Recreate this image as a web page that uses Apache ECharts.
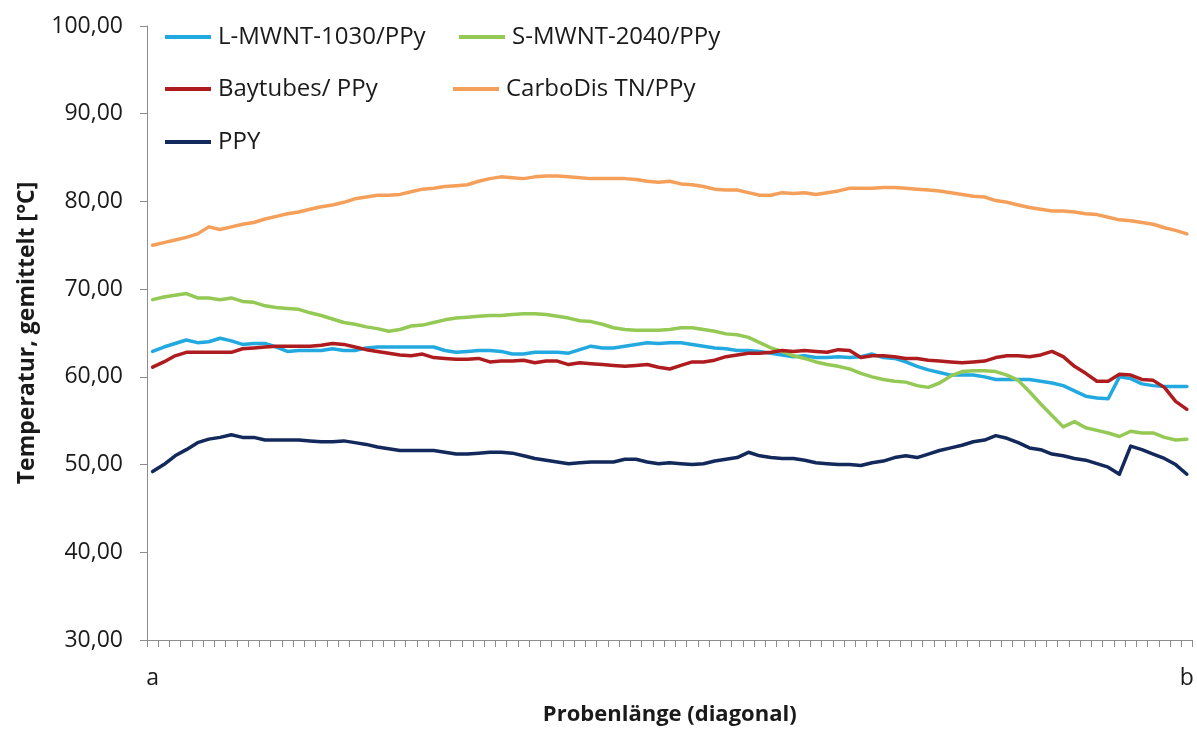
<!DOCTYPE html>
<html>
<head>
<meta charset="utf-8">
<script src="https://cdn.jsdelivr.net/npm/echarts@6/dist/echarts.min.js"></script>
<style>
  html, body { margin: 0; padding: 0; background: #fff; }
  #chart { width: 1197px; height: 731px; }
</style>
</head>
<body>
<div id="chart"></div>
<script>
// Averaged temperature along the sample diagonal, from point a to point b
const sampleCount = 93;
const endLabels = ['a', 'b'];
const yTicks = [30, 40, 50, 60, 70, 80, 90, 100];

const seriesNames = ['L-MWNT-1030/PPy', 'S-MWNT-2040/PPy', 'Baytubes/ PPy', 'CarboDis TN/PPy', 'PPY'];

const lmwnt1030 = [
  62.9, 63.4, 63.8, 64.2, 63.9, 64.0, 64.4, 64.1, 63.7, 63.8,
  63.8, 63.4, 62.9, 63.0, 63.0, 63.0, 63.2, 63.0, 63.0, 63.3,
  63.4, 63.4, 63.4, 63.4, 63.4, 63.4, 63.0, 62.8, 62.9, 63.0,
  63.0, 62.9, 62.6, 62.6, 62.8, 62.8, 62.8, 62.7, 63.1, 63.5,
  63.3, 63.3, 63.5, 63.7, 63.9, 63.8, 63.9, 63.9, 63.7, 63.5,
  63.3, 63.2, 63.0, 63.0, 62.9, 62.7, 62.5, 62.3, 62.4, 62.2,
  62.2, 62.3, 62.2, 62.3, 62.6, 62.2, 62.1, 61.7, 61.2, 60.8,
  60.5, 60.2, 60.2, 60.2, 60.0, 59.7, 59.7, 59.7, 59.7, 59.5,
  59.3, 59.0, 58.4, 57.8, 57.6, 57.5, 60.0, 59.8, 59.2, 59.0,
  58.9, 58.9, 58.9
];

const smwnt2040 = [
  68.8, 69.1, 69.3, 69.5, 69.0, 69.0, 68.8, 69.0, 68.6, 68.5,
  68.1, 67.9, 67.8, 67.7, 67.3, 67.0, 66.6, 66.2, 66.0, 65.7,
  65.5, 65.2, 65.4, 65.8, 65.9, 66.2, 66.5, 66.7, 66.8, 66.9,
  67.0, 67.0, 67.1, 67.2, 67.2, 67.1, 66.9, 66.7, 66.4, 66.3,
  66.0, 65.6, 65.4, 65.3, 65.3, 65.3, 65.4, 65.6, 65.6, 65.4,
  65.2, 64.9, 64.8, 64.5, 63.9, 63.3, 62.9, 62.4, 62.1, 61.7,
  61.4, 61.2, 60.9, 60.4, 60.0, 59.7, 59.5, 59.4, 59.0, 58.8,
  59.3, 60.1, 60.6, 60.7, 60.7, 60.6, 60.2, 59.6, 58.3, 56.9,
  55.6, 54.3, 54.9, 54.2, 53.9, 53.6, 53.2, 53.8, 53.6, 53.6,
  53.1, 52.8, 52.9
];

const baytubes = [
  61.1, 61.7, 62.4, 62.8, 62.8, 62.8, 62.8, 62.8, 63.2, 63.3,
  63.4, 63.5, 63.5, 63.5, 63.5, 63.6, 63.8, 63.7, 63.4, 63.1,
  62.9, 62.7, 62.5, 62.4, 62.6, 62.2, 62.1, 62.0, 62.0, 62.1,
  61.7, 61.8, 61.8, 61.9, 61.6, 61.8, 61.8, 61.4, 61.6, 61.5,
  61.4, 61.3, 61.2, 61.3, 61.4, 61.1, 60.9, 61.3, 61.7, 61.7,
  61.9, 62.3, 62.5, 62.7, 62.7, 62.8, 63.0, 62.9, 63.0, 62.9,
  62.8, 63.1, 63.0, 62.2, 62.4, 62.4, 62.3, 62.1, 62.1, 61.9,
  61.8, 61.7, 61.6, 61.7, 61.8, 62.2, 62.4, 62.4, 62.3, 62.5,
  62.9, 62.3, 61.2, 60.4, 59.5, 59.5, 60.3, 60.2, 59.7, 59.6,
  58.8, 57.2, 56.3
];

const carbodis = [
  75.0, 75.3, 75.6, 75.9, 76.3, 77.1, 76.8, 77.1, 77.4, 77.6,
  78.0, 78.3, 78.6, 78.8, 79.1, 79.4, 79.6, 79.9, 80.3, 80.5,
  80.7, 80.7, 80.8, 81.1, 81.4, 81.5, 81.7, 81.8, 81.9, 82.3,
  82.6, 82.8, 82.7, 82.6, 82.8, 82.9, 82.9, 82.8, 82.7, 82.6,
  82.6, 82.6, 82.6, 82.5, 82.3, 82.2, 82.3, 82.0, 81.9, 81.7,
  81.4, 81.3, 81.3, 81.0, 80.7, 80.7, 81.0, 80.9, 81.0, 80.8,
  81.0, 81.2, 81.5, 81.5, 81.5, 81.6, 81.6, 81.5, 81.4, 81.3,
  81.2, 81.0, 80.8, 80.6, 80.5, 80.1, 79.9, 79.6, 79.3, 79.1,
  78.9, 78.9, 78.8, 78.6, 78.5, 78.2, 77.9, 77.8, 77.6, 77.4,
  77.0, 76.7, 76.3
];

const ppy = [
  49.2, 50.0, 51.0, 51.7, 52.5, 52.9, 53.1, 53.4, 53.1, 53.1,
  52.8, 52.8, 52.8, 52.8, 52.7, 52.6, 52.6, 52.7, 52.5, 52.3,
  52.0, 51.8, 51.6, 51.6, 51.6, 51.6, 51.4, 51.2, 51.2, 51.3,
  51.4, 51.4, 51.3, 51.0, 50.7, 50.5, 50.3, 50.1, 50.2, 50.3,
  50.3, 50.3, 50.6, 50.6, 50.3, 50.1, 50.2, 50.1, 50.0, 50.1,
  50.4, 50.6, 50.8, 51.4, 51.0, 50.8, 50.7, 50.7, 50.5, 50.2,
  50.1, 50.0, 50.0, 49.9, 50.2, 50.4, 50.8, 51.0, 50.8, 51.2,
  51.6, 51.9, 52.2, 52.6, 52.8, 53.3, 53.0, 52.5, 51.9, 51.7,
  51.2, 51.0, 50.7, 50.5, 50.1, 49.7, 48.9, 52.1, 51.7, 51.2,
  50.7, 50.0, 48.9
];

const seriesData = [lmwnt1030, smwnt2040, baytubes, carbodis, ppy];
const seriesColors = ['#22a9df', '#93c954', '#ae1c1f', '#f5a05a', '#13295c'];

// Category positions along the diagonal (only both ends carry a label)
const positions = [];
for (let i = 0; i < sampleCount; i++) positions.push(String(i + 1));

const FONT = '"Open Sans", "Liberation Sans", sans-serif';
const axisGray = '#8c8c8c';

const chart = echarts.init(document.getElementById('chart'), null, { renderer: 'canvas' });

// Legend entries laid out as two columns inside the plot
const legendSlots = [
  { left: 165, top: 25 },
  { left: 459, top: 25 },
  { left: 165, top: 77 },
  { left: 453, top: 77 },
  { left: 165, top: 130 }
];

const legends = seriesNames.map((name, k) => ({
  data: [name],
  left: legendSlots[k].left,
  top: legendSlots[k].top,
  padding: 0,
  icon: 'rect',
  itemWidth: 46,
  itemHeight: 4,
  selectedMode: false,
  textStyle: { fontFamily: FONT, fontSize: 24, color: '#1a1a1a', padding: [0, 0, 0, 2] }
}));

chart.setOption({
  animation: false,
  backgroundColor: '#ffffff',
  legend: legends,
  grid: { left: 147, right: 4.5, top: 26, bottom: 83, containLabel: false },
  xAxis: {
    type: 'category',
    data: positions,
    boundaryGap: true,
    name: 'Probenlänge (diagonal)',
    nameLocation: 'middle',
    nameGap: 64,
    nameTextStyle: { fontFamily: FONT, fontSize: 22, fontWeight: 'bold', color: '#1a1a1a' },
    axisLine: { lineStyle: { color: axisGray, width: 1 } },
    axisTick: { show: true, interval: 0, length: 7, lineStyle: { color: axisGray } },
    axisLabel: {
      interval: 0,
      margin: 27,
      fontFamily: FONT,
      fontSize: 23,
      color: '#1a1a1a',
      formatter: (v, idx) => idx === 0 ? endLabels[0] : (idx === sampleCount - 1 ? endLabels[1] : '')
    },
    splitLine: { show: false }
  },
  yAxis: {
    type: 'value',
    min: yTicks[0],
    max: yTicks[yTicks.length - 1],
    interval: 10,
    name: 'Temperatur, gemittelt [°C]',
    nameLocation: 'middle',
    nameGap: 108,
    nameTextStyle: { fontFamily: FONT, fontSize: 23, fontWeight: 'bold', color: '#1a1a1a' },
    axisLine: { show: true, lineStyle: { color: axisGray, width: 1 } },
    axisTick: { show: true, length: 7, lineStyle: { color: axisGray } },
    axisLabel: {
      margin: 24,
      fontFamily: FONT,
      fontSize: 23,
      color: '#1a1a1a',
      formatter: v => v.toFixed(2).replace('.', ',')
    },
    splitLine: { show: false }
  },
  series: seriesNames.map((name, k) => ({
    name: name,
    type: 'line',
    data: seriesData[k],
    symbol: 'none',
    smooth: false,
    color: seriesColors[k],
    lineStyle: { width: 3.5, color: seriesColors[k], join: 'round', cap: 'round' }
  }))
});
</script>
</body>
</html>
